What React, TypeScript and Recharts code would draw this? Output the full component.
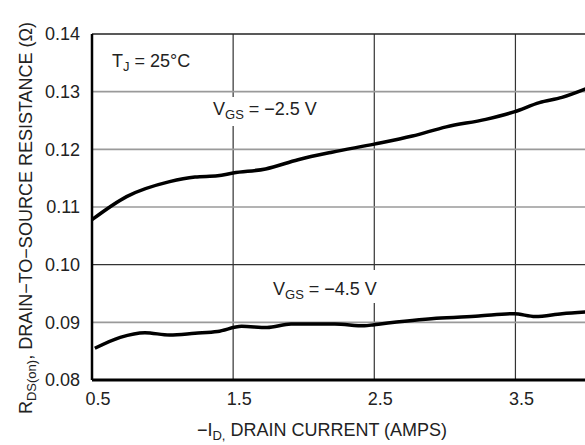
import React from 'react';
import { LineChart, Line, XAxis, YAxis, CartesianGrid, ReferenceLine, Customized } from 'recharts';

const xTicks = [0.5, 1.5, 2.5, 3.5];
const yTicks = [0.08, 0.09, 0.1, 0.11, 0.12, 0.13, 0.14];

const vgs25X = [0.5, 0.745, 1.05, 1.23, 1.39, 1.5, 1.73, 1.96, 2.2, 2.5, 2.77, 3.01, 3.29, 3.49, 3.67, 3.83, 4.0];
const vgs25Y = [0.1078, 0.1118, 0.1144, 0.1152, 0.1154, 0.1159, 0.1166, 0.1182, 0.1195, 0.1209, 0.1223, 0.1239, 0.1252, 0.1265, 0.1281, 0.129, 0.1305];

const vgs45X = [0.52, 0.7, 0.875, 1.05, 1.23, 1.39, 1.56, 1.74, 1.91, 2.1, 2.22, 2.43, 2.5, 2.94, 3.24, 3.49, 3.64, 3.83, 4.0];
const vgs45Y = [0.0855, 0.0874, 0.0882, 0.0878, 0.0881, 0.0884, 0.0893, 0.0891, 0.0897, 0.0897, 0.0897, 0.0894, 0.0896, 0.0907, 0.0911, 0.0915, 0.091, 0.0915, 0.0918];

const lightGrid = [0.09, 0.11, 0.12, 0.13];

const data25 = vgs25X.map((x, i) => ({ x, r: vgs25Y[i] }));
const data45 = vgs45X.map((x, i) => ({ x, r: vgs45Y[i] }));

const FONT = '"Liberation Sans", Arial, sans-serif';
const TXT = '#222';

const Annotations = () => (
  <g fontFamily={FONT} fill={TXT}>
    <rect x={207} y={97} width={122} height={29} fill="#fff" />
    <rect x={267} y={270} width={122} height={33} fill="#fff" />
    <text x={112} y={67} fontSize={18}>
      T<tspan fontSize={13} dy={4}>J</tspan><tspan dy={-4}> = 25°C</tspan>
    </text>
    <text x={213} y={115} fontSize={18}>
      V<tspan fontSize={13} dy={4}>GS</tspan><tspan dy={-4}> = −2.5 V</tspan>
    </text>
    <text x={273} y={295} fontSize={18}>
      V<tspan fontSize={13} dy={4}>GS</tspan><tspan dy={-4}> = −4.5 V</tspan>
    </text>
    <text x={322} y={436} fontSize={18} textAnchor="middle">
      −I<tspan fontSize={13} dy={4}>D,</tspan><tspan dy={-4}> DRAIN CURRENT (AMPS)</tspan>
    </text>
    <text x={32} y={218} fontSize={18} textAnchor="middle" transform="rotate(-90, 32, 218)">
      R<tspan fontSize={13} dy={4}>DS(on)</tspan><tspan dy={-4}>, DRAIN−TO−SOURCE RESISTANCE (Ω)</tspan>
    </text>
  </g>
);

export default function App() {
  return (
    <div style={{ position: 'absolute', left: 0, top: 0, width: 585, height: 445, overflow: 'hidden', background: '#fff' }}>
      <LineChart width={586} height={445} margin={{ top: 34, right: 0, bottom: 0, left: 0 }}>
        <CartesianGrid horizontal={false} vertical={true} stroke="#333" strokeWidth={1.2} />
        <XAxis
          type="number"
          dataKey="x"
          domain={[0.5, 4.0]}
          ticks={xTicks}
          tickFormatter={(v: number) => v.toFixed(1)}
          height={65}
          axisLine={{ stroke: '#000', strokeWidth: 3 }}
          tickLine={false}
          tickSize={0}
          tickMargin={12}
          tick={{ fontSize: 18, fill: TXT, fontFamily: FONT, dx: 6 }}
          allowDataOverflow
        />
        <YAxis
          type="number"
          domain={[0.08, 0.14]}
          ticks={yTicks}
          tickFormatter={(v: number) => v.toFixed(2)}
          width={92}
          axisLine={{ stroke: '#000', strokeWidth: 2.5 }}
          tickLine={false}
          tickSize={0}
          tickMargin={12}
          tick={{ fontSize: 18, fill: TXT, fontFamily: FONT }}
          allowDataOverflow
        />
        {lightGrid.map((v) => (
          <ReferenceLine key={v} y={v} stroke="#9a9a9a" strokeWidth={1.6} />
        ))}
        <ReferenceLine y={0.1} stroke="#333" strokeWidth={1.2} />
        <ReferenceLine y={0.14} stroke="#222" strokeWidth={1.6} />
        <ReferenceLine x={4.0} stroke="#222" strokeWidth={1.6} />
        <Customized component={Annotations} />
        <Line data={data25} dataKey="r" type="monotone" stroke="#000" strokeWidth={3.5} dot={false} isAnimationActive={false} />
        <Line data={data45} dataKey="r" type="monotone" stroke="#000" strokeWidth={3.5} dot={false} isAnimationActive={false} />
      </LineChart>
    </div>
  );
}
